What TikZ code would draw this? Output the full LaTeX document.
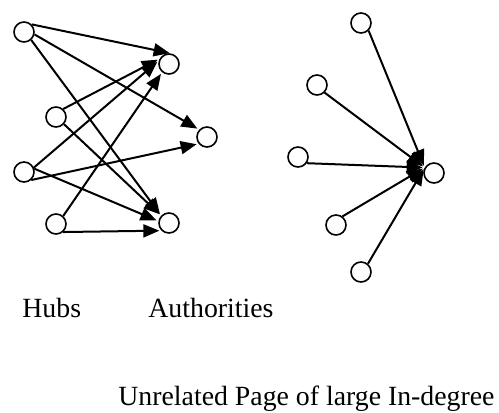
\documentclass[tikz,border=0pt]{standalone}
\usepackage{fontspec}
\setmainfont{Liberation Serif}
\usetikzlibrary{arrows.meta}

\begin{document}
\begin{tikzpicture}[x=0.5pt,y=-0.5pt,>={Triangle[length=8pt,width=6.5pt]},
  shorten >=1pt,
  page/.style={circle,draw,line width=0.8pt,minimum size=10pt,inner sep=0pt},
  link/.style={line width=1pt},
  caption/.style={anchor=base west,inner sep=0pt,font=\fontsize{13.9}{16}\selectfont}]
  \useasboundingbox (0,0) rectangle (499,413);

  % hubs and authorities
  \node[page] (h1) at (24,32)  {};
  \node[page] (h2) at (56,117) {};
  \node[page] (h3) at (24,172) {};
  \node[page] (h4) at (56,224) {};
  \node[page] (a1) at (169,64)  {};
  \node[page] (a2) at (207,137) {};
  \node[page] (a3) at (169,223) {};

  \path[->,link] (h1.45)  edge (a1.76);
  \path[->,link] (h1.-13) edge (a2.137);
  \path[->,link] (h1.-48) edge (a3.137);
  \path[->,link] (h2.48)  edge (a1.151);
  \path[->,link] (h2.-42) edge (a3.137);
  \path[->,link] (h3.24)  edge (a1.162);
  \path[->,link] (h3.-48) edge (a2.219);
  \path[->,link] (h3.18)  edge (a3.170);
  \path[->,link] (h4.48)  edge (a1.230);
  \path[->,link] (h4.-48) edge (a3.225);

  % unrelated page
  \node[page] (u1) at (361,23)  {};
  \node[page] (u2) at (317,85)  {};
  \node[page] (u3) at (298,157) {};
  \node[page] (u4) at (336,225) {};
  \node[page] (u5) at (361,272) {};
  \node[page] (x)  at (434,173) {};

  \path[->,link] (u1.-45) edge (x.150);
  \path[->,link] (u2.-45) edge (x.150);
  \path[->,link] (u3.-35) edge (x.150);
  \path[->,link] (u4.53)  edge (x.150);
  \path[->,link] (u5.50)  edge (x.150);

  \node[caption] (hubs) at (22,317)  {Hubs};
  \node[caption] (auth) at (148,317) {Authorities};
  \node[caption] (unrel) at (118,405) {Unrelated Page of large In-degree};
\end{tikzpicture}
\end{document}
